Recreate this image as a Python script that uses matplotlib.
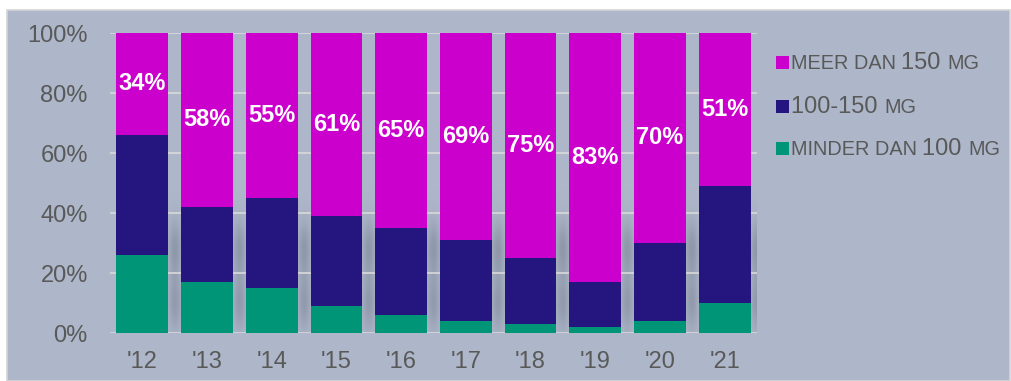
import numpy as np
import matplotlib.pyplot as plt
from matplotlib.patches import Rectangle
from matplotlib.offsetbox import TextArea, HPacker, DrawingArea, AnchoredOffsetbox

plt.rcParams['font.family'] = ['Liberation Sans', 'DejaVu Sans']

# data (share of respondents, %)
years = ["'12", "'13", "'14", "'15", "'16", "'17", "'18", "'19", "'20", "'21"]
minder_100 = [26, 17, 15, 9, 6, 4, 3, 2, 4, 10]
tussen_100_150 = [40, 25, 30, 30, 29, 27, 22, 15, 26, 39]
meer_150 = [34, 58, 55, 61, 65, 69, 75, 83, 70, 51]
series_names = ["MEER DAN 150 MG", "100-150 MG", "MINDER DAN 100 MG"]
y_ticks = [0, 20, 40, 60, 80, 100]

c_magenta = '#cc00cc'
c_navy = '#25157e'
c_green = '#009577'
panel_bg = '#adb7c9'
text_col = '#595959'

fig = plt.figure(figsize=(10.12, 3.81), dpi=100, facecolor='white')
# grey panel behind the chart
fig.patches.append(Rectangle((7 / 1012, 0), 1 - 9 / 1012, 1 - 10 / 381,
                             transform=fig.transFigure, facecolor=panel_bg,
                             edgecolor='#d4d4d4', linewidth=1.2, zorder=-5))

ax = fig.add_axes([110 / 1012, 1 - 333 / 381, 647 / 1012, 300 / 381])
ax.set_facecolor('none')
ax.set_zorder(2)

x = np.arange(len(years))
w = 0.8

# soft blurred shadow to the right of each bar (decoration of the original)
gx = np.linspace(-0.5, len(years) - 0.5, 700)
gy = np.linspace(0, 100, 300)
GX, GY = np.meshgrid(gx, gy)
shade = np.zeros_like(GX)
for xi in x:
    cx = xi + 0.5
    for cy, amp in [(28, 1.0), (10, 0.9)]:
        shade += amp * np.exp(-((GX - cx) / 0.07) ** 2 / 2 - ((GY - cy) / 6.5) ** 2 / 2)
shade = np.clip(shade, 0, 1)
rgba = np.zeros(shade.shape + (4,))
rgba[..., 0] = 0.42
rgba[..., 1] = 0.45
rgba[..., 2] = 0.52
rgba[..., 3] = shade * 0.45
ax.imshow(rgba, extent=(-0.5, len(years) - 0.5, 0, 100), origin='lower',
          aspect='auto', zorder=0.5, interpolation='bilinear')

ax.bar(x, minder_100, w, color=c_green, zorder=3)
ax.bar(x, tussen_100_150, w, bottom=minder_100, color=c_navy, zorder=3)
bottom_top = np.array(minder_100) + np.array(tussen_100_150)
top = ax.bar(x, meer_150, w, bottom=bottom_top, color=c_magenta, zorder=3)
ax.bar_label(top, labels=[f"{v}%" for v in meer_150], label_type='center',
             color='white', fontweight='bold', fontsize=17, zorder=4)

ax.set_xlim(-0.5, len(years) - 0.5)
ax.set_ylim(0, 100)
ax.set_xticks(x)
ax.set_xticklabels(years)
ax.set_yticks(y_ticks)
ax.set_yticklabels([f"{t}%" for t in y_ticks])
ax.tick_params(length=0, labelsize=17, labelcolor=text_col)
ax.tick_params(axis='y', pad=16)
ax.tick_params(axis='x', pad=13)
ax.grid(axis='y', color='#d9d9d9', linewidth=1.2, zorder=1)
ax.set_axisbelow(True)
for s in ax.spines.values():
    s.set_visible(False)

# legend with small caps look: numbers larger than words
colors = [c_magenta, c_navy, c_green]
row_y = [63, 107, 149]
sq = 13 * 72 / 100  # 13 px square
for name, col, ry in zip(series_names, colors, row_y):
    da = DrawingArea(sq, sq, 0, 0)
    da.add_artist(Rectangle((0, 0), sq, sq, facecolor=col, edgecolor='none'))
    parts = [da, TextArea(" ", textprops=dict(fontsize=5))]
    words = name.split(" ")
    for i, wd in enumerate(words):
        txt = wd + (" " if i < len(words) - 1 else "")
        size = 17 if any(ch.isdigit() for ch in wd) else 14.3
        parts.append(TextArea(txt, textprops=dict(fontsize=size, color=text_col)))
    row = HPacker(children=parts, align="baseline", pad=0, sep=0)
    ab = AnchoredOffsetbox(loc='center left', child=row, frameon=False, pad=0,
                           borderpad=0,
                           bbox_to_anchor=(776 / 1012, 1 - ry / 381),
                           bbox_transform=fig.transFigure)
    fig.add_artist(ab)

fig.savefig('out.png', dpi=100, facecolor=fig.get_facecolor())
